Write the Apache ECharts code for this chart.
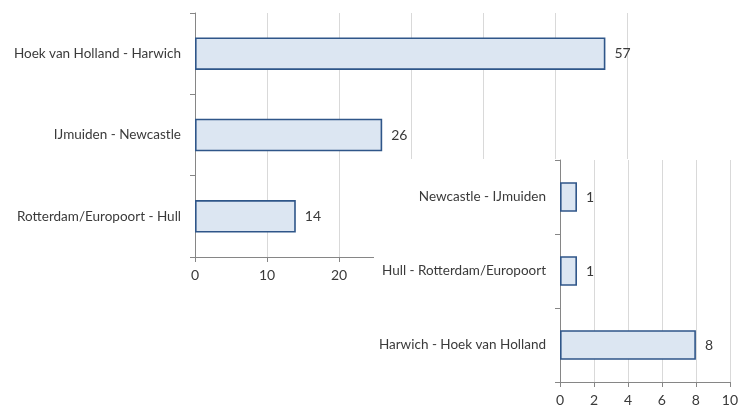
<!DOCTYPE html>
<html>
<head>
<meta charset="utf-8">
<script src="https://cdn.jsdelivr.net/npm/echarts@6/dist/echarts.min.js"></script>
<style>
html,body{margin:0;padding:0;background:#fff;}
#chart{width:741px;height:407px;}
</style>
</head>
<body>
<div id="chart"></div>
<script>
// Chart 1 (NL -> UK)
const categories1 = ['Hoek van Holland - Harwich', 'IJmuiden - Newcastle', 'Rotterdam/Europoort - Hull'];
const values1 = [57, 26, 14];
const ticks1 = [0, 10, 20, 30, 40, 50, 60];
// Chart 2 (UK -> NL)
const categories2 = ['Newcastle - IJmuiden', 'Hull - Rotterdam/Europoort', 'Harwich - Hoek van Holland'];
const values2 = [1, 1, 8];
const ticks2 = [0, 2, 4, 6, 8, 10];

const FONT = 'Lato';
const TXT = '#3a3a3a';
const AXIS = '#868686';
const GRID = '#d9d9d9';
const FILL = '#dce6f2';
const EDGE = '#2f5689';

function catAxis(idx, cats, z) {
  return {
    type: 'category', gridIndex: idx, data: cats, inverse: true, z: z,
    axisLine: {show: true, lineStyle: {color: AXIS, width: 1}},
    axisTick: {show: true, length: 5, lineStyle: {color: AXIS}},
    axisLabel: {color: TXT, fontFamily: FONT, fontSize: 13.5, margin: 14},
    splitLine: {show: false}
  };
}
function valAxis(idx, ticks, z) {
  return {
    type: 'value', gridIndex: idx, z: z,
    min: ticks[0], max: ticks[ticks.length - 1], interval: ticks[1] - ticks[0],
    axisLine: {show: true, lineStyle: {color: AXIS, width: 1}},
    axisTick: {show: true, length: 5, lineStyle: {color: AXIS}},
    axisLabel: {color: TXT, fontFamily: FONT, fontSize: 14, margin: 11},
    splitLine: {show: true, lineStyle: {color: GRID, width: 1}}
  };
}
function barSeries(idx, vals, z) {
  return {
    type: 'bar', xAxisIndex: idx, yAxisIndex: idx, data: vals, z: z,
    barCategoryGap: '60%',
    itemStyle: {color: FILL, borderColor: EDGE, borderWidth: 1.6},
    label: {show: true, position: 'right', distance: 9, color: TXT, fontFamily: FONT, fontSize: 14},
    silent: true
  };
}

const chart = echarts.init(document.getElementById('chart'), null, {renderer: 'canvas'});
chart.setOption({
  animation: false,
  backgroundColor: '#fff',
  textStyle: {fontFamily: FONT},
  grid: [
    {left: 195, right: 114, top: 13, bottom: 150, containLabel: false},
    {left: 560, right: 9, top: 160, bottom: 24, containLabel: false}
  ],
  xAxis: [valAxis(0, ticks1, 0), valAxis(1, ticks2, 5)],
  yAxis: [catAxis(0, categories1, 0), catAxis(1, categories2, 5)],
  series: [barSeries(0, values1, 2), barSeries(1, values2, 6)],
  graphic: {
    elements: [{
      type: 'rect', z: 3, silent: true,
      shape: {x: 374, y: 159, width: 367, height: 248},
      style: {fill: '#ffffff'}
    }]
  }
});
</script>
</body>
</html>
